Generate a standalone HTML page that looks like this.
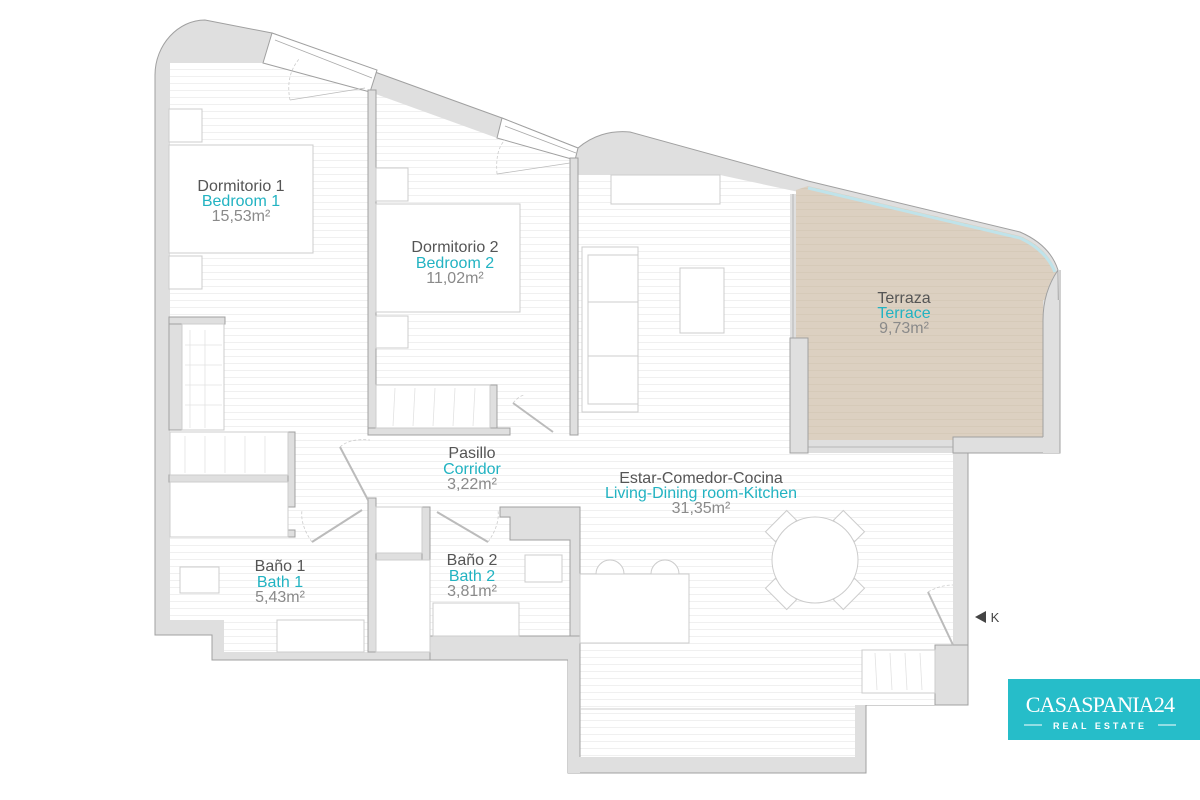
<!DOCTYPE html>
<html><head><meta charset="utf-8"><style>
html,body{margin:0;padding:0;background:#fff;}
svg{display:block;}
text{font-family:"Liberation Sans",sans-serif;font-size:16px;text-anchor:middle;}
.d{fill:#555;}.t{fill:#22b3c2;}.g{fill:#8a8a8a;}
</style></head><body>
<svg width="1200" height="800" viewBox="0 0 1200 800" xmlns="http://www.w3.org/2000/svg">
<defs>
<pattern id="st" width="10" height="7" patternUnits="userSpaceOnUse"><rect width="10" height="7" fill="#fff"/><line x1="0" y1="6.5" x2="10" y2="6.5" stroke="#f0f0f0" stroke-width="1"/></pattern>
<pattern id="tn" width="10" height="7" patternUnits="userSpaceOnUse"><rect width="10" height="7" fill="#dcd0c1"/><line x1="0" y1="6.5" x2="10" y2="6.5" stroke="#d6cab9" stroke-width="1"/></pattern>
</defs>
<g stroke="#a0a0a0" stroke-width="1">
<path d="M155,635 L155,75 C155,45 178,20 205,20 L272,33 L375,72 L502,118 L578,148 C592,136 610,130 630,132 L808,181 L1020,232 Q1050,245 1058,270 L1060,453 L968,453 L968,705 L866,705 L866,773 L568,773 L568,660 L212,660 L212,635 Z" fill="#dfdfdf"/>
<path d="M170,620 L170,63 L263,63 L370,92 L497,138 L575,158 L577,175 L720,175 L808,194 L790,194 L790,453 L953,453 L953,705 L855,705 L855,757 L580,757 L580,652 L224,652 L224,620 Z" fill="url(#st)" stroke="none"/>
<path d="M796,190 L808,186 L1020,236 Q1048,248 1056,272 Q1043,292 1043,320 L1043,437 L953,437 L953,440 L796,440 Z" fill="url(#tn)" stroke="none"/>
<path d="M808,188 L1020,238 Q1046,250 1055,272" fill="none" stroke="#bfe3ea" stroke-width="3"/>
<rect x="953" y="437" width="107" height="16" fill="#dfdfdf"/>
<rect x="1043" y="300" width="17" height="153" fill="#dfdfdf" stroke="none"/>
<path d="M1058,270 Q1043,292 1043,320 L1043,437" fill="none"/>
<line x1="1060" y1="270" x2="1060" y2="453"/>
<path d="M272,33 L377,70 L370,92 L263,63 Z" fill="#fff"/>
<path d="M502,118 L578,148 L575,160 L497,138 Z" fill="#fff"/>
<rect x="368" y="90" width="8" height="345" fill="#dfdfdf"/>
<rect x="368" y="428" width="142" height="7" fill="#dfdfdf"/>
<rect x="490" y="385" width="7" height="43" fill="#dfdfdf"/>
<rect x="570" y="158" width="8" height="277" fill="#dfdfdf"/>
<rect x="790" y="338" width="18" height="115" fill="#dfdfdf"/>
<rect x="169" y="317" width="56" height="7" fill="#dfdfdf"/>
<rect x="169" y="324" width="13" height="106" fill="#dfdfdf"/>
<rect x="169" y="475" width="126" height="7" fill="#dfdfdf"/>
<rect x="288" y="432" width="7" height="75" fill="#dfdfdf"/>
<rect x="288" y="530" width="7" height="7" fill="#dfdfdf"/>
<rect x="368" y="498" width="8" height="154" fill="#dfdfdf"/>
<rect x="376" y="553" width="54" height="7" fill="#dfdfdf"/>
<rect x="422" y="507" width="8" height="53" fill="#dfdfdf"/>
<path d="M500,507 L580,507 L580,660 L570,660 L570,540 L510,540 L510,517 L500,517 Z" fill="#dfdfdf"/>
<rect x="430" y="636" width="150" height="24" fill="#dfdfdf"/>
<rect x="568" y="655" width="12" height="118" fill="#dfdfdf" stroke="none"/>
<line x1="580" y1="652" x2="580" y2="757"/>
<rect x="935" y="645" width="33" height="60" fill="#dfdfdf"/>
</g>
<g stroke="#aaa" stroke-width="0.8" fill="none">
<line x1="275" y1="40" x2="372" y2="78"/><line x1="505" y1="126" x2="576" y2="153"/>
<line x1="793" y1="194" x2="793" y2="338"/><line x1="808" y1="447" x2="953" y2="447"/>
<line x1="290" y1="100" x2="365" y2="88" stroke="#bbb"/>
<line x1="497" y1="174" x2="570" y2="163" stroke="#bbb"/>
<line x1="513" y1="403" x2="553" y2="432" stroke="#bbb" stroke-width="2"/>
<line x1="340" y1="447" x2="368" y2="500" stroke="#bbb" stroke-width="2"/>
<line x1="312" y1="542" x2="362" y2="510" stroke="#bbb" stroke-width="2"/>
<line x1="437" y1="512" x2="488" y2="542" stroke="#bbb" stroke-width="2"/>
<line x1="928" y1="592" x2="953" y2="645" stroke="#bbb" stroke-width="2"/>
</g>
<g stroke="#ccc" stroke-width="0.8" fill="none" stroke-dasharray="3,2">
<path d="M290,100 Q285,75 300,58"/><path d="M497,174 Q495,150 505,140"/>
<path d="M340,447 Q350,438 370,440"/><path d="M312,542 Q300,525 302,510"/>
<path d="M488,542 Q500,525 498,510"/><path d="M928,592 Q940,585 953,585"/>
<path d="M513,403 Q520,395 525,395"/>
</g>
<g fill="#fff" stroke="#ccc" stroke-width="1">
<rect x="169" y="145" width="144" height="108"/>
<rect x="169" y="109" width="33" height="33"/><rect x="169" y="256" width="33" height="33"/>
<rect x="376" y="204" width="144" height="108"/>
<rect x="376" y="168" width="32" height="33"/><rect x="376" y="316" width="32" height="32"/>
<rect x="182" y="324" width="42" height="106"/>
<rect x="170" y="432" width="118" height="43"/>
<rect x="376" y="385" width="114" height="43"/>
<rect x="170" y="482" width="118" height="55"/>
<rect x="376" y="507" width="46" height="46"/>
<rect x="376" y="560" width="54" height="92"/>
<rect x="180" y="567" width="39" height="26"/><rect x="277" y="620" width="87" height="32"/>
<rect x="525" y="555" width="37" height="27"/><rect x="433" y="603" width="86" height="33"/>
<rect x="611" y="175" width="109" height="29"/>
<rect x="582" y="247" width="56" height="165"/>
<rect x="588" y="255" width="50" height="149"/>
<line x1="588" y1="302" x2="638" y2="302"/><line x1="588" y1="356" x2="638" y2="356"/>
<rect x="680" y="268" width="44" height="65"/>
<path d="M596,574 A14,14 0 0 1 624,574 Z"/><path d="M651,574 A14,14 0 0 1 679,574 Z"/>
<rect x="580" y="574" width="109" height="69"/>
<g transform="rotate(45 815 560)"><rect x="800" y="505" width="30" height="14"/><rect x="800" y="601" width="30" height="14"/></g>
<g transform="rotate(-45 815 560)"><rect x="800" y="505" width="30" height="14"/><rect x="800" y="601" width="30" height="14"/></g>
<circle cx="815" cy="560" r="43"/>
<rect x="862" y="650" width="73" height="43"/>
<line x1="580" y1="709" x2="855" y2="709"/>
</g>
<g stroke="#e2e2e2" stroke-width="0.8">
<line x1="190" y1="330" x2="190" y2="428"/><line x1="205" y1="330" x2="205" y2="428"/>
<line x1="185" y1="345" x2="222" y2="345"/><line x1="185" y1="365" x2="222" y2="365"/><line x1="185" y1="385" x2="222" y2="385"/><line x1="185" y1="405" x2="222" y2="405"/>
<line x1="185" y1="436" x2="185" y2="473"/><line x1="205" y1="436" x2="205" y2="473"/><line x1="225" y1="436" x2="225" y2="473"/><line x1="245" y1="436" x2="245" y2="473"/><line x1="265" y1="436" x2="265" y2="473"/>
<line x1="395" y1="388" x2="393" y2="426"/><line x1="415" y1="388" x2="413" y2="426"/><line x1="435" y1="388" x2="433" y2="426"/><line x1="455" y1="388" x2="453" y2="426"/><line x1="475" y1="388" x2="473" y2="426"/>
<line x1="875" y1="653" x2="877" y2="690"/><line x1="890" y1="653" x2="892" y2="690"/><line x1="905" y1="653" x2="907" y2="690"/><line x1="920" y1="653" x2="922" y2="690"/>
</g>
<text x="241" y="191" class="d">Dormitorio 1</text><text x="241" y="206" class="t">Bedroom 1</text><text x="241" y="221" class="g">15,53m²</text>
<text x="455" y="252" class="d">Dormitorio 2</text><text x="455" y="268" class="t">Bedroom 2</text><text x="455" y="283" class="g">11,02m²</text>
<text x="904" y="303" class="d">Terraza</text><text x="904" y="318" class="t">Terrace</text><text x="904" y="333" class="g">9,73m²</text>
<text x="472" y="458" class="d">Pasillo</text><text x="472" y="474" class="t">Corridor</text><text x="472" y="489" class="g">3,22m²</text>
<text x="701" y="483" class="d">Estar-Comedor-Cocina</text><text x="701" y="498" class="t">Living-Dining room-Kitchen</text><text x="701" y="513" class="g">31,35m²</text>
<text x="280" y="571" class="d">Baño 1</text><text x="280" y="587" class="t">Bath 1</text><text x="280" y="602" class="g">5,43m²</text>
<text x="472" y="565" class="d">Baño 2</text><text x="472" y="581" class="t">Bath 2</text><text x="472" y="596" class="g">3,81m²</text>
<path d="M975,617 L986,611 L986,623 Z" fill="#444"/>
<text x="995" y="622" style="font-size:13px;fill:#444">K</text>
<rect x="1008" y="679" width="192" height="61" fill="#26bdc9"/>
<text x="1100" y="712" style="font-family:'Liberation Serif',serif;font-size:22px;fill:#fff;letter-spacing:-0.8px">CASASPANIA24</text>
<text x="1100" y="729" style="font-size:9px;font-weight:bold;fill:#fff;letter-spacing:3px">REAL ESTATE</text>
<line x1="1024" y1="725" x2="1042" y2="725" stroke="#fff"/><line x1="1158" y1="725" x2="1176" y2="725" stroke="#fff"/>
</svg>
</body></html>
